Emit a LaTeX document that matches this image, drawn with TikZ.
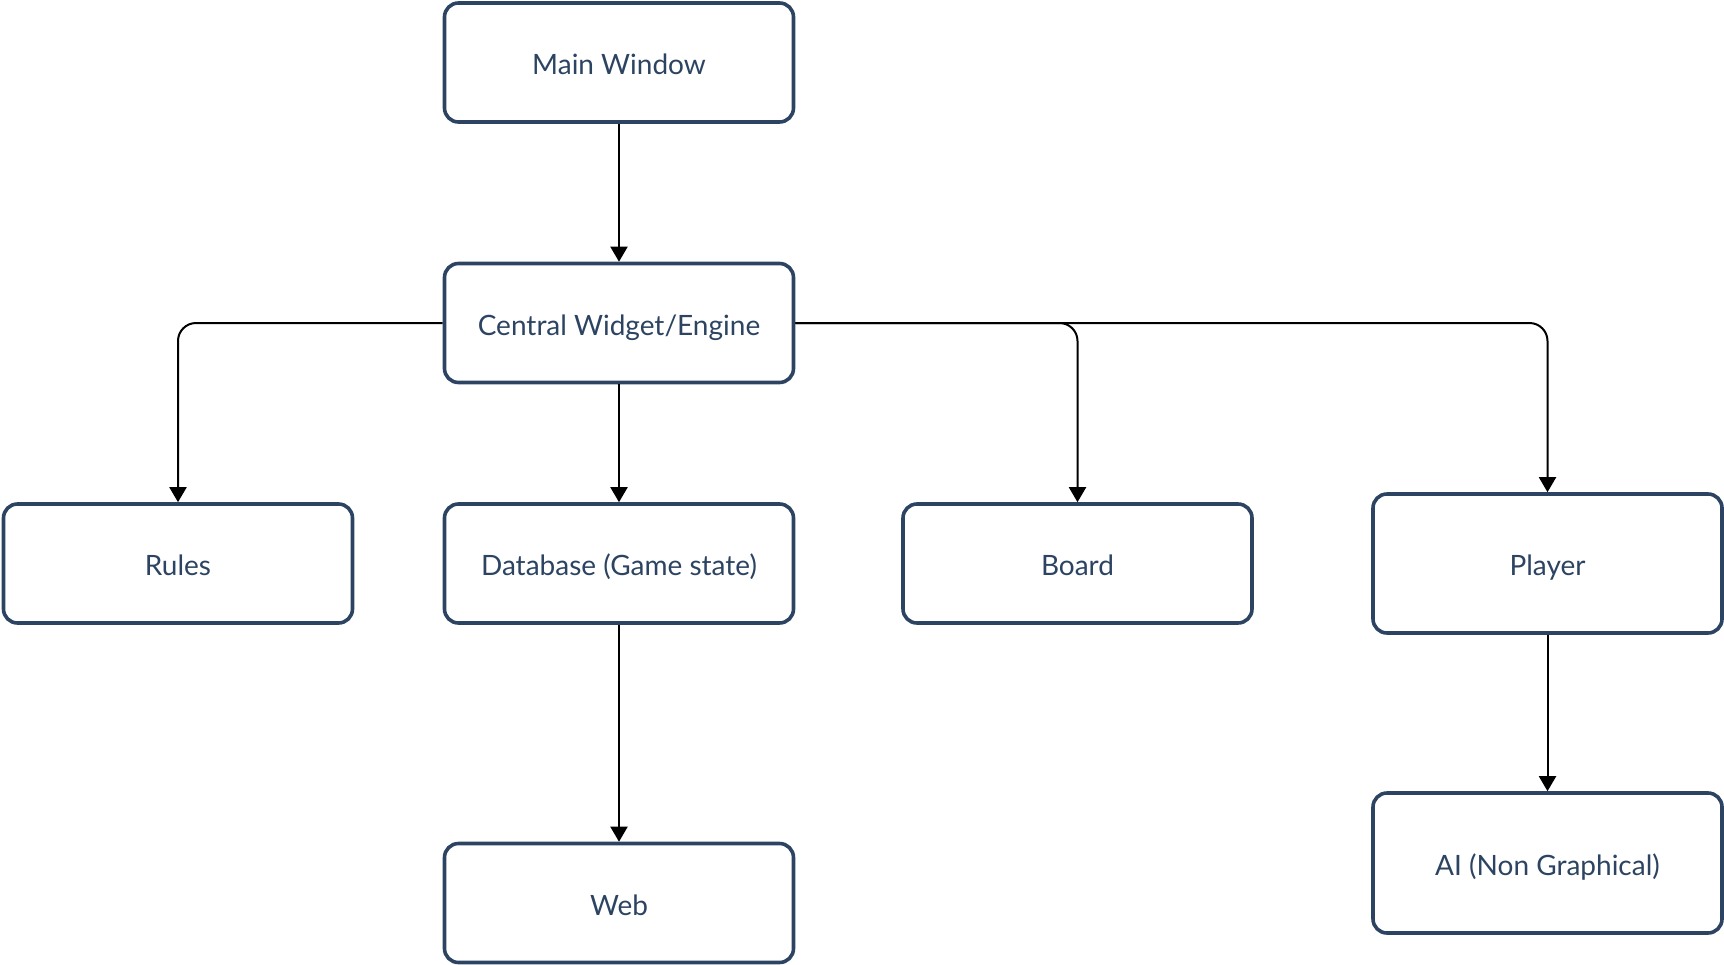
\documentclass[tikz,border=0pt]{standalone}
\usepackage{fontspec}
\setmainfont{Lato}
\usetikzlibrary{arrows.meta}
\definecolor{navy}{HTML}{2C4462}
\tikzset{
  box/.style={draw=navy, line width=3.6pt, rounded corners=14pt, fill=white,
    minimum width=349pt, minimum height=119pt, text=navy,
    font=\fontsize{28}{33}\selectfont, inner sep=0pt,
    text height=26pt, text depth=2pt},
  conn/.style={draw=black, line width=2pt, rounded corners=18pt,
    -{Triangle[length=15pt,width=17pt]}}
}
\begin{document}
\begin{tikzpicture}[x=1pt,y=-1pt]
\useasboundingbox (0,0) rectangle (1724,964);
\node[box] (main) at (619,62.5) {Main Window};
\node[box] (central) at (619,323) {Central Widget/Engine};
\node[box] (rules) at (178,563.5) {Rules};
\node[box] (db) at (619,563.5) {Database (Game state)};
\node[box] (board) at (1077.5,563.5) {Board};
\node[box, minimum height=139pt] (player) at (1547.5,563.5) {Player};
\node[box] (web) at (619,903) {Web};
\node[box, minimum height=140pt] (ai) at (1547.5,863) {AI (Non Graphical)};
\draw[conn] (main) -- (central);
\draw[conn] (central) -- (db);
\draw[conn] (db) -- (web);
\draw[conn] (player) -- (ai);
\draw[conn] (central.west) -| (rules.north);
\draw[conn] (central.east) -| (board.north);
\draw[conn] (central.east) -| (player.north);
\end{tikzpicture}
\end{document}
